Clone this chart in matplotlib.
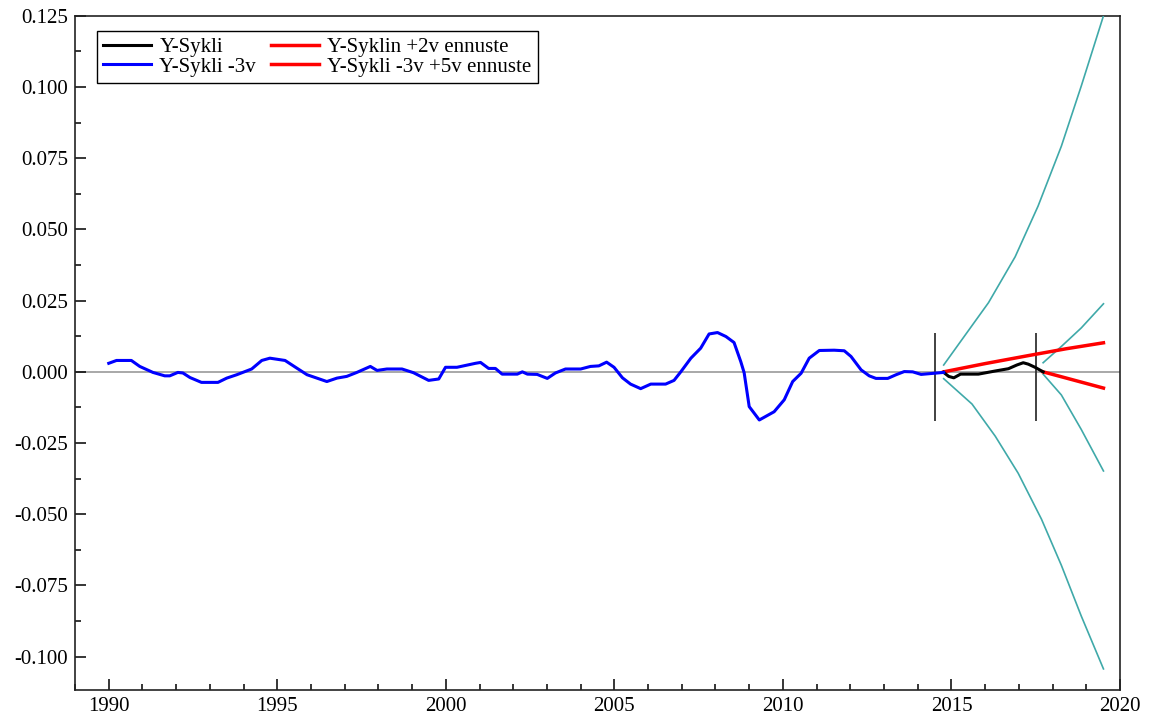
import matplotlib as mpl
mpl.use('Agg')
import matplotlib.pyplot as plt
from matplotlib.ticker import MultipleLocator, FormatStrFormatter

mpl.rcParams.update({
    "font.family": ["Liberation Serif", "DejaVu Serif"],
    "axes.unicode_minus": False,
    "font.size": 15,
})

# Y-Sykli -3v (blue)
cyc3_x = [1990.0, 1990.23, 1990.67, 1990.92, 1991.31, 1991.66, 1991.81, 1992.05, 1992.2, 1992.41,
          1992.75, 1993.24, 1993.5, 1993.8, 1994.24, 1994.54, 1994.78, 1995.23, 1995.58, 1995.88,
          1996.47, 1996.77, 1997.06, 1997.36, 1997.76, 1997.96, 1998.25, 1998.7, 1999.04, 1999.49,
          1999.79, 1999.99, 2000.33, 2000.88, 2001.03, 2001.27, 2001.47, 2001.67, 2002.12, 2002.27,
          2002.42, 2002.71, 2003.01, 2003.25, 2003.55, 2004.0, 2004.29, 2004.54, 2004.77, 2004.99,
          2005.24, 2005.48, 2005.78, 2006.08, 2006.52, 2006.77, 2006.97, 2007.27, 2007.56, 2007.81,
          2008.06, 2008.31, 2008.55, 2008.75, 2008.85, 2009.0, 2009.3, 2009.74, 2010.04, 2010.29,
          2010.54, 2010.78, 2011.08, 2011.52, 2011.82, 2012.02, 2012.32, 2012.56, 2012.76, 2013.11,
          2013.36, 2013.6, 2013.85, 2014.1, 2014.77]
cyc3_y = [0.003, 0.004, 0.004, 0.0019, -0.0002, -0.0014, -0.0014, -0.0002, -0.0004, -0.002,
          -0.0037, -0.0037, -0.0022, -0.001, 0.001, 0.004, 0.0048, 0.004, 0.0013, -0.001,
          -0.0034, -0.0022, -0.0016, -0.0002, 0.0019, 0.0005, 0.001, 0.001, -0.0003, -0.003,
          -0.0025, 0.0016, 0.0016, 0.003, 0.0033, 0.0012, 0.0012, -0.0008, -0.0008, 0.0,
          -0.0008, -0.0009, -0.0023, -0.0004, 0.001, 0.001, 0.0019, 0.0021, 0.0034, 0.0016,
          -0.0021, -0.0043, -0.0059, -0.0043, -0.0043, -0.003, 0.0, 0.0048, 0.0083, 0.0133,
          0.0138, 0.0124, 0.0103, 0.0036, -0.0003, -0.0122, -0.0169, -0.014, -0.0098, -0.0034,
          -0.0005, 0.0048, 0.0075, 0.0076, 0.0074, 0.0054, 0.0007, -0.0014, -0.0023, -0.0023,
          -0.001, 0.0001, 0.0, -0.0009, -0.0002]

# Y-Sykli (black)
cyc_x = [2014.77, 2014.92, 2015.07, 2015.27, 2015.8, 2016.3, 2016.69, 2016.94, 2017.13, 2017.28,
         2017.48, 2017.72]
cyc_y = [-0.0002, -0.0016, -0.0021, -0.0008, -0.0008, 0.0003, 0.0011, 0.0024, 0.0032, 0.0027,
         0.0016, 0.0]

# forecasts (red)
fc2_x = [2014.77, 2016.0, 2017.28, 2018.4, 2019.51]
fc2_y = [0.0, 0.0029, 0.0057, 0.0081, 0.0102]
fc5_x = [2017.72, 2018.6, 2019.51]
fc5_y = [0.0, -0.0028, -0.0057]

# confidence bands (teal)
band2_up_x = [2014.77, 2015.31, 2016.1, 2016.89, 2017.57, 2018.26, 2018.85, 2019.51]
band2_up_y = [0.0024, 0.0113, 0.0243, 0.0404, 0.0582, 0.0792, 0.1003, 0.125]
band2_lo_x = [2014.77, 2015.61, 2016.3, 2016.98, 2017.67, 2018.26, 2018.85, 2019.51]
band2_lo_y = [-0.0024, -0.0113, -0.0226, -0.0356, -0.0517, -0.0679, -0.0857, -0.1043]
band5_up_x = [2017.72, 2018.26, 2018.85, 2019.51]
band5_up_y = [0.0032, 0.0089, 0.0154, 0.0239]
band5_lo_x = [2017.72, 2018.26, 2018.85, 2019.51]
band5_lo_y = [-0.0008, -0.0081, -0.0202, -0.0348]

# forecast start markers
split_x = [2014.52, 2017.5]
split_lo, split_hi = -0.0172, 0.0137

teal = "#3fa9a9"

fig = plt.figure(figsize=(11.6, 7.2), dpi=100)
ax = fig.add_axes([0.0647, 0.0417, 0.9008, 0.9363])

ax.axhline(0, color="#9a9a9a", lw=1.2, zorder=1)
for sx in split_x:
    ax.vlines(sx, split_lo, split_hi, color="#333333", lw=1.3, zorder=2)

for bx, by in [(band2_up_x, band2_up_y), (band2_lo_x, band2_lo_y),
               (band5_up_x, band5_up_y), (band5_lo_x, band5_lo_y)]:
    ax.plot(bx, by, color=teal, lw=1.2, zorder=3)

l1, = ax.plot(cyc_x, cyc_y, color="black", lw=2.2, zorder=5, label="Y-Sykli")
l2, = ax.plot(cyc3_x, cyc3_y, color="blue", lw=2.2, zorder=5, label="Y-Sykli -3v")
l3, = ax.plot(fc2_x, fc2_y, color="red", lw=2.5, zorder=4, label="Y-Syklin +2v ennuste")
l4, = ax.plot(fc5_x, fc5_y, color="red", lw=2.5, zorder=4, label="Y-Sykli -3v +5v ennuste")

ax.set_xlim(1989, 2020)
ax.set_ylim(-0.1117, 0.125)

ax.xaxis.set_major_locator(MultipleLocator(5))
ax.xaxis.set_minor_locator(MultipleLocator(1))
ax.yaxis.set_major_locator(MultipleLocator(0.025))
ax.yaxis.set_minor_locator(MultipleLocator(0.0125))
ax.yaxis.set_major_formatter(FormatStrFormatter("%.3f"))
ax.tick_params(which="both", direction="in", top=False, right=False, width=1.1)
ax.tick_params(which="major", length=8, labelsize=15, pad=5)
ax.tick_params(which="minor", length=4)
for sp in ax.spines.values():
    sp.set_linewidth(1.2)
    sp.set_color("#222222")

leg = ax.legend(handles=[l1, l2, l3, l4], ncol=2, loc="upper left",
                bbox_to_anchor=(0.021, 0.977), borderaxespad=0, fancybox=False, framealpha=1,
                edgecolor="black", handlelength=2.3, columnspacing=0.7,
                labelspacing=0.0, borderpad=0.3, handletextpad=0.4, fontsize=15)
leg.get_frame().set_linewidth(1.0)

fig.savefig("out.png", dpi=100)
